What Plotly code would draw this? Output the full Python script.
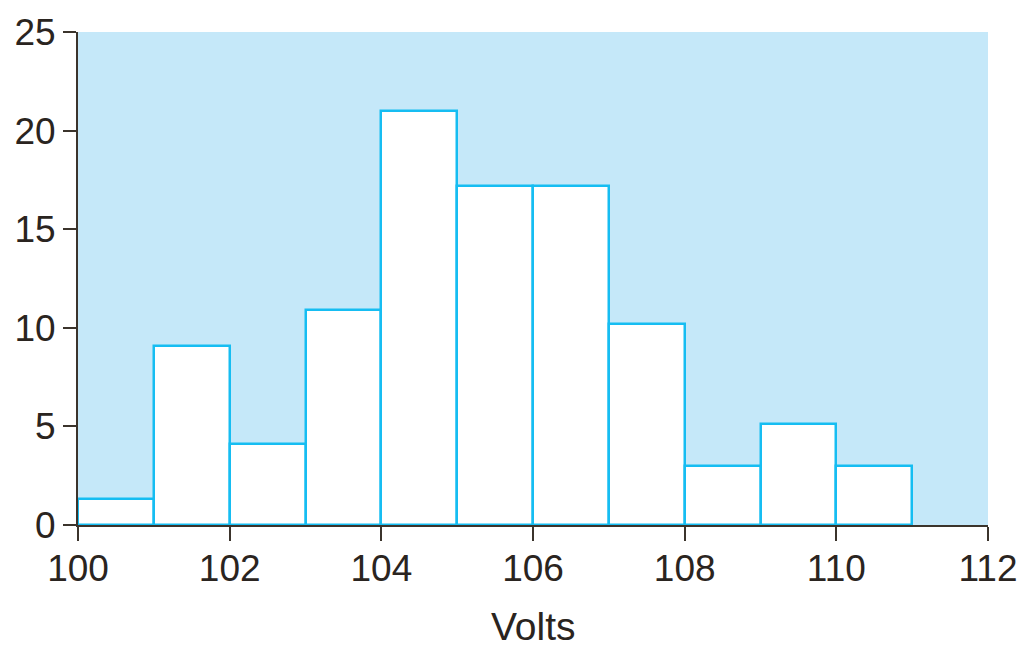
import plotly.graph_objects as go

bin_starts = [100, 101, 102, 103, 104, 105, 106, 107, 108, 109, 110]
counts = [1.3, 9.1, 4.1, 10.9, 21.0, 17.2, 17.2, 10.2, 3.0, 5.1, 3.0]
x_ticks = [100, 102, 104, 106, 108, 110, 112]
y_ticks = [0, 5, 10, 15, 20, 25]
x_title = "Volts"

TEXT = "#2a2420"
FONT = "Liberation Sans, Arial"
fig = go.Figure(go.Bar(
    x=bin_starts, y=counts, width=1, offset=0,
    marker=dict(color="white", line=dict(color="#16bdf2", width=2.5)),
))
# page body has an 8px margin, so the figure is sized and offset to compensate
fig.update_layout(
    width=1019, height=638,
    margin=dict(l=70, r=39, t=24, b=121, autoexpand=False),
    paper_bgcolor="white", plot_bgcolor="#c5e8f9",
    font=dict(family=FONT, size=37, color=TEXT),
    showlegend=False, bargap=0,
)
fig.add_annotation(
    text=x_title, xref="paper", yref="paper", x=0.5, y=0,
    xanchor="center", yanchor="middle", yshift=-101, showarrow=False,
    borderpad=0, font=dict(family=FONT, size=39, color=TEXT),
)
fig.update_xaxes(
    range=[100, 112], tickvals=x_ticks, ticks="outside", ticklen=14, tickwidth=2,
    tickcolor="#3b342c", showline=True, linecolor="#3b342c", linewidth=2,
    showgrid=False, zeroline=False,
    tickfont=dict(size=37), ticklabelstandoff=-4, automargin=False,
)
fig.update_yaxes(
    range=[0, 25], tickvals=y_ticks, ticks="outside", ticklen=13, tickwidth=2,
    tickcolor="#3b342c", showline=True, linecolor="#3b342c", linewidth=2,
    showgrid=False, zeroline=False, tickfont=dict(size=37), automargin=False,
)
fig.write_html("out.html")
